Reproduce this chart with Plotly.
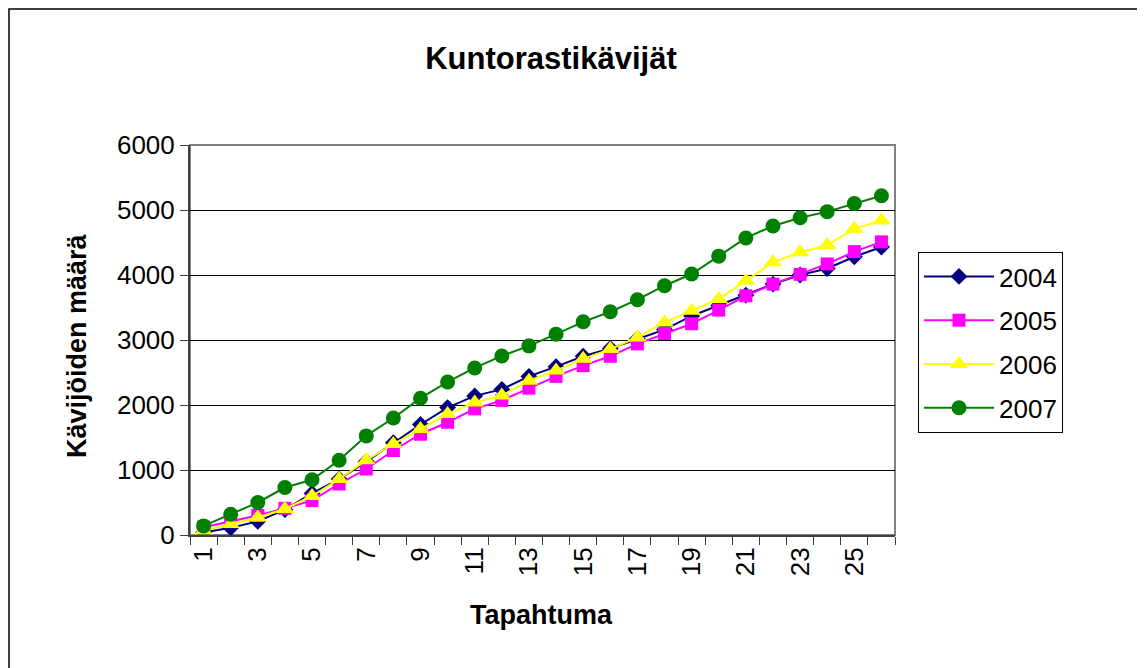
import plotly.graph_objects as go

categories = [1, 2, 3, 4, 5, 6, 7, 8, 9, 10, 11, 12, 13, 14, 15, 16, 17, 18, 19, 20, 21, 22, 23, 24, 25, 26]
tick_labels = ["1", "3", "5", "7", "9", "11", "13", "15", "17", "19", "21", "23", "25"]
tick_positions = [1, 3, 5, 7, 9, 11, 13, 15, 17, 19, 21, 23, 25]

y2004 = [40, 110, 210, 390, 640, 860, 1130, 1420, 1700, 1960, 2140, 2240, 2440, 2590, 2750, 2870,
         3020, 3160, 3370, 3530, 3690, 3860, 4000, 4100, 4280, 4430]
y2005 = [120, 205, 300, 410, 530, 785, 1015, 1300, 1550, 1735, 1940, 2070, 2260, 2440, 2605, 2750,
         2940, 3100, 3250, 3460, 3680, 3860, 4010, 4170, 4360, 4510]
y2006 = [70, 170, 270, 400, 600, 860, 1150, 1400, 1630, 1860, 2040, 2145, 2375, 2530, 2710, 2860,
         3040, 3270, 3450, 3630, 3910, 4195, 4350, 4460, 4710, 4840]
y2007 = [140, 320, 500, 730, 850, 1150, 1525, 1800, 2105, 2355, 2570, 2755, 2910, 3090, 3280, 3435,
         3620, 3835, 4015, 4290, 4570, 4755, 4880, 4975, 5100, 5220]

series = [
    ("2004", y2004, "#000080", "diamond", 13),
    ("2005", y2005, "#FF00FF", "square", 13),
    ("2006", y2006, "#FFFF00", "triangle-up", 16),
    ("2007", y2007, "#008000", "circle", 15),
]

FONT = "Liberation Sans, Arial, sans-serif"

fig = go.Figure()
for name, ys, color, symbol, size in series:
    fig.add_trace(go.Scatter(
        x=categories, y=ys, name=name, mode="lines+markers",
        legendgroup=name,
        line=dict(color=color, width=2),
        marker=dict(symbol=symbol, size=size, color=color, line=dict(width=0)),
    ))

# page body has an 8px margin; work in screen pixels and offset
OFF = 8
W, H = 1145 - OFF, 668 - OFF
L = 190 - OFF
T = 145 - OFF
R = W - (895 - OFF)
B = H - (535 - OFF)
pw, ph = W - L - R, H - T - B

def px(xs):
    return (xs - OFF - L) / pw

def py(ys):
    return (H - B - (ys - OFF)) / ph

boundaries = [c - 0.5 for c in categories] + [categories[-1] + 0.5]

fig.update_layout(
    width=W, height=H,
    margin=dict(l=L, r=R, t=T, b=B),
    paper_bgcolor="white", plot_bgcolor="white",
    font=dict(family=FONT, color="black", size=25),
    title=dict(text="<b>Kuntorastikävijät</b>", x=(551 - OFF) / W, y=1 - (58 - OFF) / H,
               xanchor="center", yanchor="middle", xref="container", yref="container",
               font=dict(size=31, family=FONT, color="black")),
    showlegend=True,
    legend=dict(x=px(918), y=py(252), xanchor="left", yanchor="top",
                bordercolor="black", borderwidth=1, bgcolor="white",
                font=dict(size=26, family=FONT), tracegroupgap=7,
                itemwidth=70),
    xaxis=dict(
        range=[0.5, 26.5], tickmode="array", tickvals=tick_positions, ticktext=tick_labels,
        tickangle=-90, ticks="", showgrid=False, zeroline=False,
        showline=True, linecolor="#404040", linewidth=2,
        tickfont=dict(size=26, family=FONT),
        minor=dict(tickmode="array", tickvals=boundaries, ticks="outside", ticklen=8,
                   tickcolor="#404040", tickwidth=1, showgrid=False),
    ),
    yaxis=dict(
        range=[0, 6000], tickmode="array", tickvals=[0, 1000, 2000, 3000, 4000, 5000, 6000],
        ticks="outside", ticklen=8, tickcolor="#404040", tickwidth=1,
        showgrid=True, gridcolor="black", gridwidth=1, zeroline=False,
        showline=True, linecolor="#404040", linewidth=2,
        tickfont=dict(size=26, family=FONT),
    ),
    shapes=[
        dict(type="rect", xref="paper", yref="paper", x0=0, x1=1, y0=0, y1=1,
             line=dict(color="#808080", width=2), layer="below"),
        dict(type="rect", xref="paper", yref="paper", x0=px(9), x1=px(1139), y0=py(9), y1=py(680),
             line=dict(color="black", width=1.5), layer="below"),
    ],
    annotations=[
        dict(text="<b>Tapahtuma</b>", xref="paper", yref="paper", x=px(541), y=py(615),
             xanchor="center", yanchor="middle", showarrow=False,
             font=dict(size=27, family=FONT, color="black")),
        dict(text="<b>Kävijöiden määrä</b>", xref="paper", yref="paper", x=px(77), y=py(346),
             xanchor="center", yanchor="middle", showarrow=False, textangle=-90,
             font=dict(size=27, family=FONT, color="black")),
    ],
)

fig.write_html("out.html")
